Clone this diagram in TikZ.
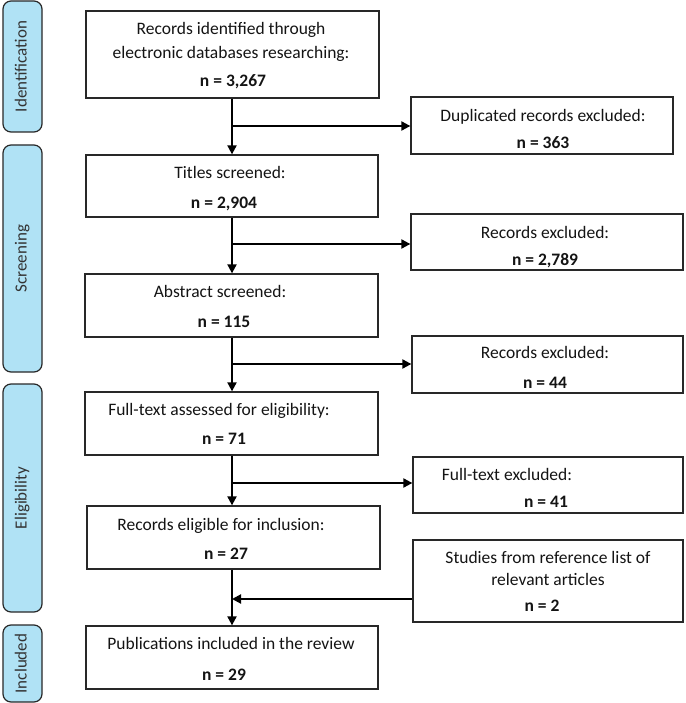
\documentclass[tikz,border=0pt]{standalone}
\usepackage{fontspec}
\setmainfont{Carlito}
\usetikzlibrary{arrows.meta}
\definecolor{barfill}{RGB}{176,226,245}
\definecolor{edgec}{RGB}{40,40,40}
\definecolor{txtc}{RGB}{20,20,20}
\tikzset{
  box/.style={draw=edgec, line width=1.3pt, inner sep=0pt, fill=white},
  bar/.style={draw=edgec, line width=1.2pt, fill=barfill, rounded corners=8pt, inner sep=0pt},
  ln/.style={font=\fontsize{17.5}{21}\selectfont, text=txtc, inner sep=0pt, anchor=base},
  bln/.style={ln, font=\fontsize{17.5}{21}\selectfont\bfseries},
  side/.style={font=\fontsize{17}{20}\selectfont, text=black!80, rotate=90, inner sep=0pt, text height=11pt, text depth=3pt},
  arr/.style={line width=2pt, draw=black, -{Triangle[length=9pt,width=9pt]}},
}
\begin{document}
\begin{tikzpicture}[x=1pt,y=-1pt]
\path[use as bounding box] (0,0) rectangle (685,703);

% side bars
\node[bar, minimum width=39pt, minimum height=131pt] (s1) at (22.5,66.5) {};
\node[bar, minimum width=39pt, minimum height=227pt] (s2) at (22.5,258.5) {};
\node[bar, minimum width=39pt, minimum height=228pt] (s3) at (22.5,498) {};
\node[bar, minimum width=39pt, minimum height=77pt] (s4) at (22.5,663.5) {};
\node[side] (s1t) at (s1.center) {Identification};
\node[side] (s2t) at (s2.center) {Screening};
\node[side] (s3t) at (s3.center) {Eligibility};
\node[side] (s4t) at (s4.center) {Included};

% main boxes
\node[box, minimum width=293pt, minimum height=87pt] (b1) at (232.5,54.5) {};
\node[box, minimum width=292pt, minimum height=62pt] (b2) at (232,186) {};
\node[box, minimum width=293pt, minimum height=63pt] (b3) at (231.5,305.5) {};
\node[box, minimum width=293pt, minimum height=63pt] (b4) at (231.5,423.5) {};
\node[box, minimum width=293pt, minimum height=63pt] (b5) at (233.5,537.5) {};
\node[box, minimum width=292pt, minimum height=63pt] (b6) at (232,657.5) {};

% side boxes
\node[box, minimum width=262pt, minimum height=57pt] (d1) at (542,125.5) {};
\node[box, minimum width=272pt, minimum height=56pt] (d2) at (547,242) {};
\node[box, minimum width=271pt, minimum height=57pt] (d3) at (547.5,364.5) {};
\node[box, minimum width=270pt, minimum height=56pt] (d4) at (548,485) {};
\node[box, minimum width=270pt, minimum height=82pt] (d5) at (548,581) {};

% texts
\node[ln] (b1a) at (231,34.5) {Records identified through};
\node[ln] (b1b) at (231,58.5) {electronic databases researching:};
\node[bln] (b1c) at (233,86.5) {n = 3,267};
\node[ln] (d1a) at (543,121.5) {Duplicated records excluded:};
\node[bln] (d1b) at (543,148.5) {n = 363};
\node[ln] (b2a) at (230,178.5) {Titles screened:};
\node[bln] (b2b) at (224,208.5) {n = 2,904};
\node[ln] (d2a) at (545,238.5) {Records excluded:};
\node[bln] (d2b) at (545,265.5) {n = 2,789};
\node[ln] (b3a) at (220,297.5) {Abstract screened:};
\node[bln] (b3b) at (224,327.5) {n = 115};
\node[ln] (d3a) at (545,358.5) {Records excluded:};
\node[bln] (d3b) at (545,388.5) {n = 44};
\node[ln] (b4a) at (219,415.5) {Full-text assessed for eligibility:};
\node[bln] (b4b) at (224,444.5) {n = 71};
\node[ln] (d4a) at (507,480.5) {Full-text excluded:};
\node[bln] (d4b) at (546,507.5) {n = 41};
\node[ln] (b5a) at (221,530.5) {Records eligible for inclusion:};
\node[bln] (b5b) at (226,559.5) {n = 27};
\node[ln] (d5a) at (548,563.5) {Studies from reference list of};
\node[ln] (d5b) at (548,585.5) {relevant articles};
\node[bln] (d5c) at (542,611.5) {n = 2};
\node[ln] (b6a) at (231,649.5) {Publications included in the review};
\node[bln] (b6b) at (224,680.5) {n = 29};

% junctions
\coordinate (j1) at (232,126);
\coordinate (j2) at (232,244);
\coordinate (j3) at (232,364);
\coordinate (j4) at (232,483);
\coordinate (j5) at (232,599);

% connectors
\draw[arr] (b1.south -| j1) -- (b2.north -| j1);
\draw[arr] (b2.south -| j2) -- (b3.north -| j2);
\draw[arr] (b3.south -| j3) -- (b4.north -| j3);
\draw[arr] (b4.south -| j4) -- (b5.north -| j4);
\draw[arr] (b5.south -| j5) -- (b6.north -| j5);
\draw[arr] (j1) -- (j1 -| d1.west);
\draw[arr] (j2) -- (j2 -| d2.west);
\draw[arr] (j3) -- (j3 -| d3.west);
\draw[arr] (j4) -- (j4 -| d4.west);
\draw[arr] (j5 -| d5.west) -- (j5);
\end{tikzpicture}
\end{document}
